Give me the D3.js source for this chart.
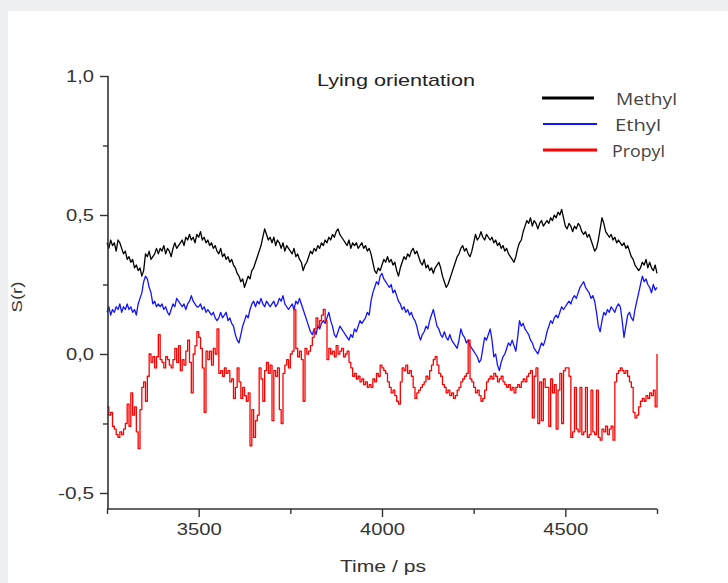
<!DOCTYPE html>
<html>
<head>
<meta charset="utf-8">
<script src="https://cdn.jsdelivr.net/npm/d3@7"></script>
<style>
  html, body { margin: 0; padding: 0; background: #eff0f2; }
  svg { display: block; }
</style>
</head>
<body>
<svg id="chart" width="728" height="583"></svg>
<script>
// ---- data ----
const timeStart = 3250, timeStep = 5;
const seriesNames = ["Methyl", "Ethyl", "Propyl"];
const seriesColors = ["#000000", "#1414ff", "#ff0000"];
const xTicksMajor = [3500, 4000, 4500];
const xTicksMinor = [3250, 3750, 4250, 4750];
const yTicksMajor = [1.0, 0.5, 0.0, -0.5];
const yTicksMinor = [0.75, 0.25, -0.25];
const yTickLabels = ["1,0", "0,5", "0,0", "-0,5"];

const methyl = [
0.40,0.38,0.41,0.39,0.40,0.37,0.41,0.40,0.38,0.36,
0.37,0.34,0.35,0.33,0.34,0.31,0.32,0.30,0.31,0.28,
0.30,0.36,0.35,0.37,0.34,0.35,0.36,0.38,0.36,0.38,
0.37,0.39,0.36,0.38,0.37,0.35,0.38,0.40,0.38,0.39,
0.40,0.41,0.39,0.42,0.41,0.43,0.41,0.42,0.40,0.43,
0.42,0.44,0.41,0.42,0.40,0.41,0.39,0.40,0.38,0.39,
0.37,0.36,0.38,0.35,0.36,0.34,0.35,0.33,0.34,0.32,
0.31,0.29,0.28,0.26,0.27,0.24,0.26,0.28,0.27,0.30,
0.31,0.33,0.35,0.37,0.39,0.42,0.45,0.43,0.41,0.42,
0.40,0.42,0.39,0.41,0.40,0.38,0.40,0.37,0.39,0.38,
0.37,0.36,0.38,0.35,0.36,0.34,0.33,0.30,0.32,0.33,
0.35,0.37,0.36,0.38,0.37,0.39,0.38,0.40,0.39,0.41,
0.40,0.42,0.41,0.43,0.42,0.44,0.45,0.43,0.42,0.41,
0.40,0.39,0.41,0.38,0.40,0.39,0.40,0.38,0.39,0.40,
0.38,0.39,0.37,0.38,0.36,0.33,0.30,0.29,0.31,0.30,
0.32,0.34,0.33,0.35,0.33,0.34,0.32,0.33,0.30,0.28,
0.31,0.33,0.35,0.34,0.36,0.35,0.37,0.38,0.36,0.37,
0.35,0.33,0.32,0.34,0.31,0.32,0.30,0.31,0.29,0.31,
0.32,0.33,0.31,0.28,0.26,0.24,0.25,0.27,0.29,0.31,
0.33,0.35,0.36,0.38,0.39,0.37,0.38,0.36,0.35,0.37,
0.40,0.43,0.41,0.42,0.44,0.42,0.41,0.43,0.42,0.41,
0.42,0.40,0.41,0.39,0.40,0.38,0.39,0.37,0.38,0.36,
0.35,0.34,0.33,0.35,0.38,0.40,0.41,0.44,0.46,0.48,
0.47,0.49,0.46,0.48,0.47,0.45,0.47,0.48,0.46,0.47,
0.48,0.47,0.49,0.48,0.50,0.49,0.51,0.50,0.52,0.49,
0.46,0.45,0.47,0.46,0.44,0.46,0.45,0.47,0.46,0.44,
0.43,0.44,0.42,0.43,0.41,0.39,0.37,0.38,0.41,0.45,
0.49,0.47,0.44,0.43,0.42,0.43,0.41,0.42,0.40,0.41,
0.40,0.39,0.40,0.38,0.39,0.37,0.35,0.34,0.32,0.31,
0.30,0.31,0.33,0.32,0.34,0.31,0.33,0.31,0.30,0.32,
0.29];

const ethyl = [
0.15,0.17,0.14,0.16,0.15,0.17,0.16,0.18,0.15,0.17,
0.16,0.18,0.16,0.17,0.15,0.16,0.14,0.18,0.20,0.22,
0.26,0.28,0.27,0.24,0.22,0.18,0.19,0.17,0.18,0.17,
0.18,0.16,0.17,0.15,0.14,0.16,0.18,0.17,0.20,0.19,
0.18,0.17,0.18,0.16,0.18,0.19,0.21,0.19,0.18,0.17,
0.17,0.18,0.16,0.17,0.15,0.16,0.15,0.14,0.15,0.13,
0.12,0.13,0.15,0.13,0.14,0.15,0.12,0.13,0.11,0.10,
0.07,0.05,0.04,0.07,0.10,0.12,0.14,0.13,0.16,0.18,
0.19,0.17,0.19,0.18,0.20,0.18,0.17,0.19,0.18,0.17,
0.18,0.19,0.17,0.18,0.20,0.19,0.21,0.18,0.17,0.16,
0.17,0.18,0.16,0.19,0.18,0.20,0.18,0.16,0.14,0.12,
0.10,0.08,0.07,0.09,0.07,0.10,0.09,0.11,0.12,0.11,
0.13,0.15,0.12,0.10,0.07,0.06,0.08,0.10,0.09,0.08,
0.07,0.06,0.05,0.07,0.06,0.09,0.08,0.10,0.12,0.11,
0.12,0.13,0.15,0.14,0.19,0.22,0.24,0.26,0.25,0.28,
0.29,0.27,0.26,0.25,0.24,0.25,0.22,0.23,0.21,0.19,
0.18,0.16,0.17,0.15,0.16,0.14,0.15,0.13,0.12,0.10,
0.07,0.05,0.07,0.08,0.10,0.09,0.12,0.14,0.16,0.13,
0.10,0.09,0.07,0.06,0.08,0.06,0.05,0.07,0.05,0.04,
0.03,0.02,0.05,0.09,0.07,0.06,0.04,0.05,0.03,0.02,
0.01,0.00,-0.01,-0.03,-0.02,0.02,0.06,0.05,0.07,0.09,
0.05,-0.01,0.00,-0.04,-0.06,-0.03,-0.01,0.00,0.02,0.04,
0.03,0.05,0.03,0.01,0.06,0.12,0.10,0.11,0.09,0.08,
0.07,0.05,0.04,0.02,0.01,0.00,0.02,0.04,0.03,0.05,
0.08,0.10,0.12,0.11,0.13,0.14,0.13,0.15,0.17,0.16,
0.17,0.18,0.19,0.18,0.20,0.21,0.20,0.22,0.24,0.25,
0.26,0.24,0.23,0.22,0.20,0.21,0.19,0.15,0.10,0.08,
0.12,0.15,0.14,0.16,0.15,0.17,0.16,0.15,0.17,0.18,
0.17,0.12,0.06,0.10,0.14,0.15,0.13,0.12,0.16,0.19,
0.22,0.25,0.28,0.26,0.27,0.25,0.24,0.22,0.25,0.23,
0.24];

const propyl = [
-0.19,-0.22,-0.21,-0.26,-0.27,-0.29,-0.30,-0.28,-0.29,-0.27,
-0.25,-0.18,-0.26,-0.14,-0.22,-0.19,-0.28,-0.34,-0.20,-0.12,
-0.10,-0.17,-0.08,0.00,-0.03,-0.01,-0.05,-0.01,0.07,-0.02,
-0.03,-0.05,-0.01,-0.02,-0.04,-0.05,-0.02,0.02,-0.03,0.03,
-0.06,-0.02,-0.04,0.01,0.05,-0.03,-0.14,0.00,0.03,0.08,
0.06,0.02,-0.05,-0.21,0.01,-0.02,0.01,-0.04,0.02,0.00,
0.09,-0.07,-0.06,-0.08,-0.05,-0.07,-0.06,-0.10,-0.09,-0.16,
-0.12,-0.05,-0.10,-0.16,-0.12,-0.15,-0.17,-0.14,-0.33,-0.20,
-0.30,-0.24,-0.22,-0.05,-0.09,-0.17,-0.06,-0.03,-0.07,-0.04,
-0.24,-0.06,-0.08,-0.05,-0.20,-0.25,-0.07,-0.04,-0.02,-0.05,
0.00,0.01,0.16,0.02,-0.01,0.01,-0.02,-0.17,0.02,0.00,
0.01,0.03,0.06,0.09,0.13,0.10,0.12,0.14,0.16,0.12,
-0.02,0.02,0.00,0.01,-0.01,0.03,0.00,0.01,0.02,-0.01,
0.00,0.01,-0.03,-0.05,-0.08,-0.07,-0.09,-0.08,-0.10,-0.09,
-0.11,-0.10,-0.12,-0.11,-0.12,-0.09,-0.10,-0.07,-0.08,-0.04,
-0.05,-0.06,-0.07,-0.10,-0.12,-0.14,-0.13,-0.15,-0.17,-0.18,
-0.10,-0.05,-0.06,-0.04,-0.07,-0.06,-0.08,-0.12,-0.16,-0.14,
-0.13,-0.12,-0.11,-0.10,-0.08,-0.09,-0.06,-0.04,-0.02,-0.01,
-0.04,-0.07,-0.08,-0.11,-0.12,-0.14,-0.13,-0.15,-0.14,-0.16,
-0.15,-0.13,-0.12,-0.10,-0.09,-0.08,-0.07,0.05,-0.09,-0.10,
-0.12,-0.14,-0.13,-0.15,-0.17,-0.16,-0.13,-0.10,-0.09,-0.08,
-0.09,-0.07,-0.08,-0.10,-0.09,-0.08,-0.10,-0.11,-0.12,-0.11,
-0.13,-0.12,-0.14,-0.12,-0.11,-0.12,-0.10,-0.09,-0.10,-0.08,
-0.07,-0.06,-0.23,-0.08,-0.05,-0.25,-0.10,-0.24,-0.09,-0.12,
-0.12,-0.26,-0.09,-0.14,-0.11,-0.27,-0.13,-0.07,-0.25,-0.06,
-0.05,-0.05,-0.08,-0.30,-0.28,-0.12,-0.27,-0.28,-0.12,-0.29,
-0.28,-0.12,-0.30,-0.29,-0.13,-0.28,-0.29,-0.13,-0.30,-0.31,
-0.27,-0.28,-0.26,-0.29,-0.27,-0.26,-0.31,-0.10,-0.07,-0.06,
-0.05,-0.06,-0.07,-0.06,-0.08,-0.10,-0.12,-0.21,-0.23,-0.22,
-0.19,-0.17,-0.16,-0.17,-0.15,-0.16,-0.14,-0.15,-0.13,-0.19,
0.00];

// ---- layout ----
const svg = d3.select("#chart");
svg.append("rect").attr("x", 8).attr("y", 11).attr("width", 720).attr("height", 572).attr("fill", "#ffffff");

const x = d3.scaleLinear().domain([3250, 4750]).range([107, 657]);
const y = d3.scaleLinear().domain([-0.5576, 1.0]).range([509, 76]);

const axisColor = "#333333";
const font = "'Liberation Sans', Arial, sans-serif";

// data lines
const allSeries = [methyl, ethyl, propyl];
const curves = [d3.curveLinear, d3.curveLinear, d3.curveStepAfter];
allSeries.forEach((vals, k) => {
  const line = d3.line()
    .x((d, i) => x(Math.min(4750, timeStart + i * timeStep)))
    .y(d => y(d))
    .curve(curves[k]);
  svg.append("path")
    .datum(vals)
    .attr("fill", "none")
    .attr("stroke", seriesColors[k])
    .attr("stroke-width", 1.3)
    .attr("stroke-linejoin", "round")
    .attr("d", line);
});

// x axis
const xAxisG = svg.append("g").attr("transform", "translate(0,509)");
xAxisG.call(d3.axisBottom(x).tickValues(xTicksMajor).tickSize(8).tickPadding(6).tickFormat(d3.format("d")));
xAxisG.append("g").call(d3.axisBottom(x).tickValues(xTicksMinor).tickSize(5).tickFormat(""));
xAxisG.selectAll(".domain").attr("stroke", axisColor).attr("stroke-width", 1.6);
xAxisG.selectAll(".tick line").attr("stroke", axisColor).attr("stroke-width", 1.4);
xAxisG.selectAll(".tick text")
  .attr("fill", "#333").attr("font-family", font).attr("font-size", 17)
  .attr("textLength", 45).attr("lengthAdjust", "spacingAndGlyphs");
xAxisG.selectAll("g > g .domain").remove();

// y axis
const yAxisG = svg.append("g").attr("transform", "translate(108,0)");
yAxisG.call(d3.axisLeft(y).tickValues(yTicksMajor).tickSize(8).tickPadding(6)
  .tickFormat((d, i) => yTickLabels[i]));
yAxisG.append("g").call(d3.axisLeft(y).tickValues(yTicksMinor).tickSize(5).tickFormat(""));
yAxisG.selectAll(".domain").attr("stroke", axisColor).attr("stroke-width", 1.6);
yAxisG.selectAll(".tick line").attr("stroke", axisColor).attr("stroke-width", 1.4);
yAxisG.selectAll(".tick text")
  .attr("fill", "#333").attr("font-family", font).attr("font-size", 17)
  .attr("textLength", (d) => d < 0 ? 36 : 28).attr("lengthAdjust", "spacingAndGlyphs");
yAxisG.selectAll("g > g .domain").remove();
yAxisG.select(".domain").attr("d", `M0,${y(1.0)}V509`);
xAxisG.select(".domain").attr("d", `M107,0H657`);

// title
svg.append("text").attr("x", 396).attr("y", 86).attr("text-anchor", "middle")
  .attr("font-family", font).attr("font-size", 17).attr("fill", "#222")
  .attr("textLength", 158).attr("lengthAdjust", "spacingAndGlyphs")
  .text("Lying orientation");

// axis titles
svg.append("text").attr("x", 383).attr("y", 572).attr("text-anchor", "middle")
  .attr("font-family", font).attr("font-size", 17).attr("fill", "#333")
  .attr("textLength", 86).attr("lengthAdjust", "spacingAndGlyphs")
  .text("Time / ps");
svg.append("text").attr("transform", "translate(22,297) rotate(-90)").attr("text-anchor", "middle")
  .attr("font-family", font).attr("font-size", 15).attr("fill", "#333")
  .attr("textLength", 31).attr("lengthAdjust", "spacingAndGlyphs")
  .text("S(r)");

// legend
const legendItems = [
  { name: seriesNames[0], color: seriesColors[0], x1: 542, x2: 594, y: 98, w: 3, tx: 616, ty: 105, tl: 61 },
  { name: seriesNames[1], color: seriesColors[1], x1: 543, x2: 597, y: 124, w: 2.2, tx: 615, ty: 131, tl: 46 },
  { name: seriesNames[2], color: seriesColors[2], x1: 543, x2: 597, y: 150, w: 3, tx: 612, ty: 157, tl: 53 }
];
const lg = svg.append("g");
legendItems.forEach(it => {
  lg.append("line").attr("x1", it.x1).attr("x2", it.x2).attr("y1", it.y).attr("y2", it.y)
    .attr("stroke", it.color).attr("stroke-width", it.w);
  lg.append("text").attr("x", it.tx).attr("y", it.ty)
    .attr("font-family", "'Open Sans', 'Noto Sans', sans-serif").attr("font-size", 17).attr("fill", "#444")
    .attr("textLength", it.tl).attr("lengthAdjust", "spacingAndGlyphs")
    .text(it.name);
});
</script>
</body>
</html>
